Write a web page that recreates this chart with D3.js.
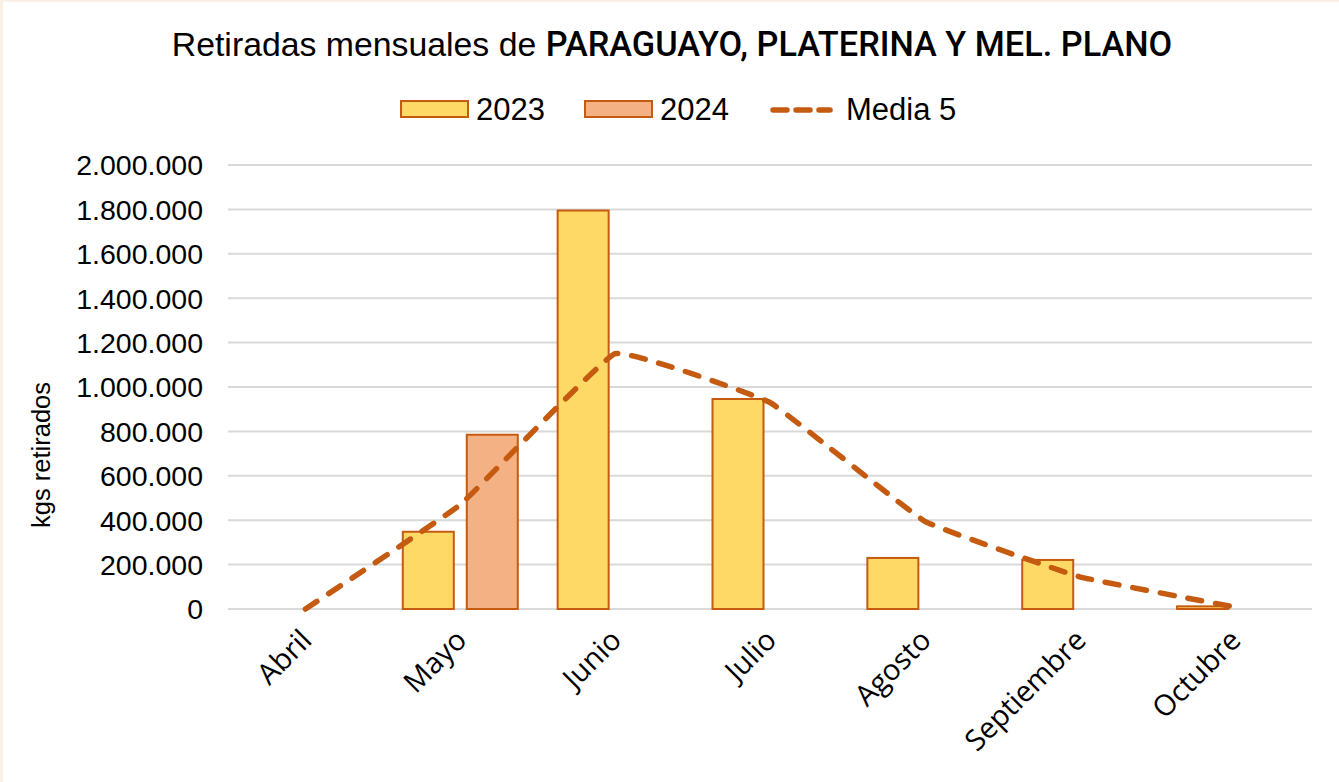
<!DOCTYPE html>
<html lang="es">
<head>
  <meta charset="UTF-8" />
  <title>Retiradas mensuales</title>
  <script src="https://d3js.org/d3.v7.min.js"></script>
  <style>
    html, body {
      margin: 0;
      padding: 0;
      background: #fff;
      overflow: hidden;
    }
    svg text { fill: #000; }
  </style>
</head>
<body>
  <div id="chart"></div>

  <script>
    // ---- data ----
    const months = ["Abril", "Mayo", "Junio", "Julio", "Agosto", "Septiembre", "Octubre"];
    const series = ["2023", "2024"];
    const values2023 = [0, 348000, 1795000, 946000, 230000, 221000, 12000];
    const values2024 = [0, 785000, null, null, null, null, null];
    const media5 = [0, 470000, 1150000, 930000, 395000, 145000, 9000];
    const yTicks = [0, 200000, 400000, 600000, 800000, 1000000, 1200000, 1400000, 1600000, 1800000, 2000000];

    const width = 1339, height = 782;
    const plot = { left: 228, right: 1312, top: 165, bottom: 609 };

    const colors = { "2023": "#FFD966", "2024": "#F4B183" };
    const edge = "#C55A11";

    const svg = d3.select("#chart").append("svg")
      .attr("width", width)
      .attr("height", height);

    // faint chart-area edge, only top & left show in the reference
    svg.append("rect").attr("x", 0).attr("y", 0).attr("width", width).attr("height", 2).attr("fill", "#FBF0E4");
    svg.append("rect").attr("x", 0).attr("y", 0).attr("width", 3).attr("height", height).attr("fill", "#FBF0E4");

    // scales
    const x = d3.scaleBand()
      .domain(months)
      .range([plot.left, plot.right])
      .paddingInner(0.2574)
      .paddingOuter(0.1287);

    const x1 = d3.scaleBand()
      .domain(series)
      .range([0, x.bandwidth()])
      .paddingInner(0.203);

    const y = d3.scaleLinear()
      .domain([0, 2000000])
      .range([plot.bottom, plot.top]);

    const fmt = v => d3.format(",")(v).replace(/,/g, ".");

    // gridlines
    svg.append("g")
      .selectAll("line")
      .data(yTicks)
      .join("line")
      .attr("x1", plot.left)
      .attr("x2", plot.right)
      .attr("y1", d => y(d))
      .attr("y2", d => y(d))
      .attr("stroke", "#D9D9D9")
      .attr("stroke-width", 2);

    // y axis labels (no domain line, no ticks)
    const yAxis = svg.append("g")
      .attr("transform", `translate(${plot.left},0)`)
      .call(d3.axisLeft(y).tickValues(yTicks).tickFormat(fmt).tickSize(0).tickPadding(25));
    yAxis.select(".domain").remove();
    yAxis.selectAll("text")
      .attr("font-family", "'Liberation Sans', Arial, sans-serif")
      .attr("font-size", 28.5)
      .attr("dy", "0.35em")
      .attr("fill", "#000");

    // y axis title
    svg.append("text")
      .attr("transform", `translate(50,455) rotate(-90)`)
      .attr("text-anchor", "middle")
      .attr("font-family", "'Liberation Sans', Arial, sans-serif")
      .attr("font-size", 25.5)
      .text("kgs retirados");

    // bars
    const rows = months.map((m, i) => ({ month: m, "2023": values2023[i], "2024": values2024[i] }));
    const groups = svg.append("g")
      .selectAll("g")
      .data(rows)
      .join("g")
      .attr("transform", d => `translate(${x(d.month)},0)`);

    groups.selectAll("rect")
      .data(d => series.map(s => ({ key: s, value: d[s] })).filter(d => d.value))
      .join("rect")
      .attr("x", d => x1(d.key))
      .attr("y", d => y(d.value))
      .attr("width", x1.bandwidth())
      .attr("height", d => y(0) - y(d.value))
      .attr("fill", d => colors[d.key])
      .attr("stroke", edge)
      .attr("stroke-width", 2);

    // Media 5 smoothed dashed line
    const line = d3.line()
      .x((d, i) => x(months[i]) + x.bandwidth() / 2)
      .y(d => y(d))
      .curve(d3.curveCardinal.tension(0.75));

    svg.append("path")
      .datum(media5)
      .attr("d", line)
      .attr("fill", "none")
      .attr("stroke", edge)
      .attr("stroke-width", 5.5)
      .attr("stroke-linecap", "round")
      .attr("stroke-dasharray", "14,14");

    // x axis labels rotated -45
    svg.append("g")
      .selectAll("text")
      .data(months)
      .join("text")
      .attr("transform", d => `translate(${x(d) + x.bandwidth() / 2 + 8},${plot.bottom + 33}) rotate(-45)`)
      .attr("text-anchor", "end")
      .attr("font-family", "'Open Sans', sans-serif")
      .attr("font-size", 29)
      .text(d => d);

    // title
    const title = svg.append("text")
      .attr("x", 672)
      .attr("y", 56)
      .attr("text-anchor", "middle")
      .attr("font-family", "'Liberation Sans', Arial, sans-serif")
      .attr("font-size", 33.8);
    title.append("tspan").text("Retiradas mensuales de ");
    title.append("tspan").attr("font-weight", 500).attr("font-family", "Roboto, sans-serif").attr("font-size", 34.3).text("PARAGUAYO, PLATERINA Y MEL. PLANO");

    // legend
    const legend = svg.append("g").attr("font-family", "'Liberation Sans', Arial, sans-serif").attr("font-size", 31);
    const legendItems = [
      { label: "2023", type: "rect", x: 401 },
      { label: "2024", type: "rect", x: 585 },
      { label: "Media 5", type: "line", x: 770 }
    ];
    legendItems.forEach(it => {
      if (it.type === "rect") {
        legend.append("rect")
          .attr("x", it.x).attr("y", 101).attr("width", 67).attr("height", 16)
          .attr("fill", colors[it.label]).attr("stroke", edge).attr("stroke-width", 2);
        legend.append("text").attr("x", it.x + 75).attr("y", 120).text(it.label);
      } else {
        legend.append("line")
          .attr("x1", it.x + 3).attr("x2", it.x + 60).attr("y1", 110).attr("y2", 110)
          .attr("stroke", edge).attr("stroke-width", 5.5)
          .attr("stroke-linecap", "round").attr("stroke-dasharray", "14,9");
        legend.append("text").attr("x", it.x + 76).attr("y", 120).text(it.label);
      }
    });
  </script>
</body>
</html>
